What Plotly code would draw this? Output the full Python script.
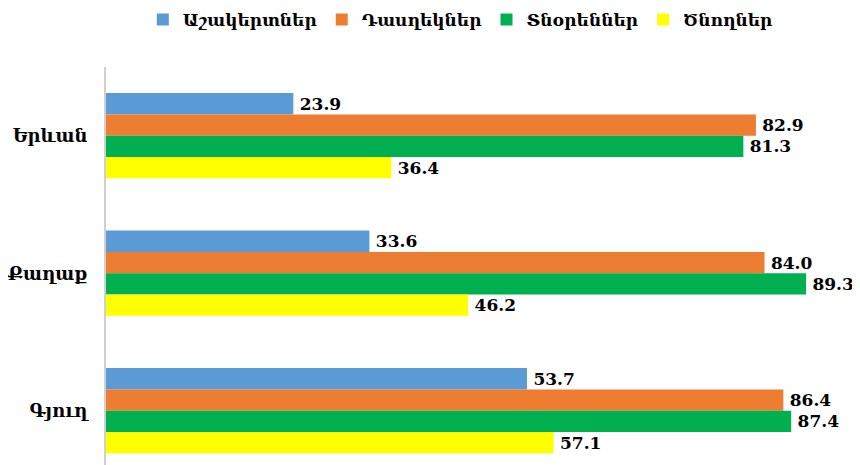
import plotly.graph_objects as go

# categories (top to bottom) and series
places = ['Երևան', 'Քաղաք', 'Գյուղ']
series_names = ['Աշակերտներ', 'Դասղեկներ', 'Տնօրեններ', 'Ծնողներ']
pupils = [23.9, 33.6, 53.7]
class_teachers = [82.9, 84.0, 86.4]
principals = [81.3, 89.3, 87.4]
parents = [36.4, 46.2, 57.1]

colors = ['#5B9BD5', '#ED7D31', '#00B050', '#FFFF00']
values = [pupils, class_teachers, principals, parents]

font_family = 'DejaVu Serif'

fig = go.Figure()
for name, vals, col in zip(series_names, values, colors):
    fig.add_trace(go.Bar(
        y=places, x=vals, name=name, orientation='h',
        marker=dict(color=col, line=dict(width=0)),
        text=[f'\u2009{v:.1f}' for v in vals],
        textposition='outside',
        textfont=dict(family=font_family, size=17, color='black', weight='bold'),
        cliponaxis=False,
    ))

# page body has an 8px margin, so offsets below are shifted by 8px
fig.update_layout(
    width=860, height=465,
    margin=dict(l=98, r=0, t=59, b=0, autoexpand=False),
    paper_bgcolor='white', plot_bgcolor='white',
    barmode='group', bargap=0.38, bargroupgap=0,
    font=dict(family=font_family, color='black'),
    legend=dict(orientation='h', x=0.465, xanchor='center', y=1.116, yanchor='middle',
                font=dict(size=17, weight='bold'),
                itemwidth=30, tracegroupgap=0),
    showlegend=True,
    xaxis=dict(range=[0, 97.2], visible=False, showgrid=False),
    yaxis=dict(range=[2.453, -0.5], showline=True, linecolor='#d0d0d0', linewidth=2,
               ticks='', ticklabelstandoff=13, automargin=False,
               tickfont=dict(size=18, weight='bold', family=font_family)),
)

fig.write_html('out.html')
